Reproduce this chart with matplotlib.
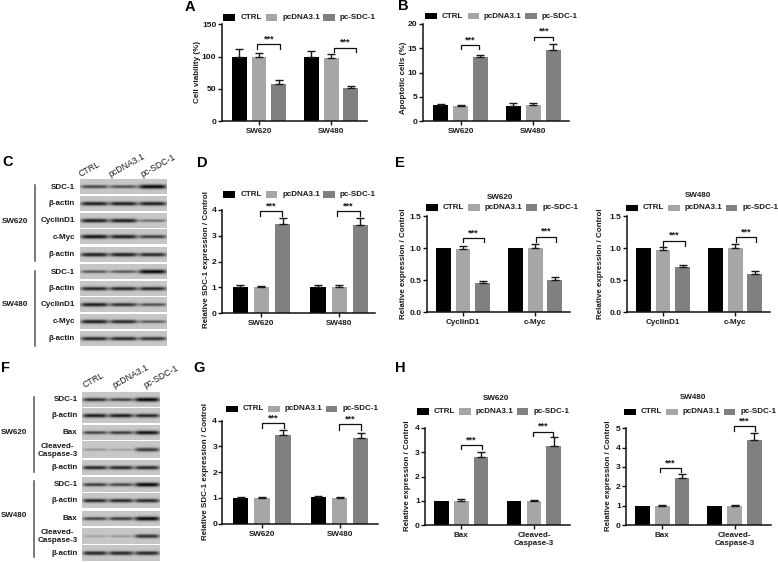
import numpy as np
import matplotlib
matplotlib.use("Agg")
import matplotlib.pyplot as plt
from matplotlib.patches import Rectangle

plt.rcParams['font.family'] = ['Liberation Sans', 'DejaVu Sans']
W, H = 778, 562

# ---------- data ----------
groups_cells = ['SW620', 'SW480']
series = ['CTRL', 'pcDNA3.1', 'pc-SDC-1']
colors = ['#000000', '#a6a6a6', '#808080']

a_vals = [[100, 99.5, 57], [100, 97, 50.5]]
a_tops = [[111, 106, 64], [109, 104, 54.5]]
b_vals = [[3.2, 3.0, 13.1], [3.0, 3.4, 14.7]]
b_tops = [[3.6, 3.2, 13.7], [3.7, 3.8, 15.8]]
d_vals = [[1.0, 1.0, 3.47], [1.0, 1.0, 3.43]]
d_tops = [[1.07, 1.06, 3.7], [1.07, 1.07, 3.7]]
e1_vals = [[1.0, 0.98, 0.45], [1.0, 1.0, 0.51]]
e1_tops = [[1.0, 1.03, 0.49], [1.0, 1.06, 0.55]]
e2_vals = [[1.0, 0.97, 0.71], [1.0, 1.0, 0.6]]
e2_tops = [[1.0, 1.01, 0.74], [1.0, 1.07, 0.65]]
g_vals = [[1.0, 0.98, 3.45], [1.02, 1.0, 3.32]]
g_tops = [[1.05, 1.04, 3.65], [1.06, 1.04, 3.52]]
h1_vals = [[1.0, 1.0, 2.8], [1.0, 1.0, 3.25]]
h1_tops = [[1.0, 1.06, 3.03], [1.0, 1.05, 3.62]]
h2_vals = [[1.0, 0.98, 2.45], [1.0, 1.0, 4.42]]
h2_tops = [[1.0, 1.03, 2.65], [1.0, 1.05, 4.75]]

blot_c_labels = ['SDC-1', 'β-actin', 'CyclinD1', 'c-Myc', 'β-actin'] * 2
blot_c_bands = [[.65, .6, .95], [.85, .85, .85], [.85, .85, .45], [.9, .85, .7], [.85, .85, .8],
                [.55, .55, .95], [.8, .8, .8], [.85, .75, .6], [.85, .8, .55], [.8, .8, .75]]
blot_f_labels = ['SDC-1', 'β-actin', 'Bax', 'Cleaved-\nCaspase-3', 'β-actin'] * 2
blot_f_bands = [[.75, .65, .95], [.85, .85, .8], [.65, .7, .9], [.25, .2, .7], [.8, .8, .8],
                [.7, .65, .95], [.8, .8, .8], [.65, .7, .95], [.2, .25, .75], [.8, .8, .8]]

# ---------- layout (pixels) ----------
FS = 5.8
GROUP_STEP = 3.67
panels = [
    dict(L=221.7, R=367, T=24.3, B=121, c0=239.3, p=19.67, vals=a_vals, tops=a_tops, ymax=150,
         ticks=[0, 50, 100, 150], fmt='{:d}', cats=groups_cells, ylabel='Cell viability (%)',
         lx=198, ly=72, leg=(223.3, 17.3), title=None,
         br=[(.92, 2.07, 119, 112), (4.83, 5.92, 114, 107.5)]),
    dict(L=422.7, R=569, T=24, B=121, c0=440.7, p=19.83, vals=b_vals, tops=b_tops, ymax=20,
         ticks=[0, 5, 10, 15, 20], fmt='{:d}', cats=groups_cells, ylabel='Apoptotic cells (%)',
         lx=404, ly=78, leg=(425, 16), title=None,
         br=[(1.03, 1.95, 15.7, 14.8), (4.72, 5.68, 17.4, 16.6)]),
    dict(L=221.7, R=375, T=210, B=313, c0=240.3, p=21.17, vals=d_vals, tops=d_tops, ymax=4,
         ticks=[0, 1, 2, 3, 4], fmt='{:d}', cats=groups_cells, ylabel='Relative SDC-1 expression / Control',
         lx=206.7, ly=260, leg=(223.3, 194.3), title=None,
         br=[(.93, 1.98, 3.96, 3.75), (4.58, 5.65, 3.96, 3.75)]),
    dict(L=426.7, R=570, T=216, B=312.3, c0=443.3, p=19.67, vals=e1_vals, tops=e1_tops, ymax=1.5,
         ticks=[0, .5, 1, 1.5], fmt='{:.1f}', cats=['CyclinD1', 'c-Myc'], ylabel='Relative expression / Control',
         lx=404, ly=264, leg=(425.7, 207.3), title=('SW620', 500, 197.3),
         br=[(1.02, 2.05, 1.16, 1.09), (4.71, 5.73, 1.18, 1.10)]),
    dict(L=626.7, R=770, T=216, B=312.3, c0=643.3, p=19.67, vals=e2_vals, tops=e2_tops, ymax=1.5,
         ticks=[0, .5, 1, 1.5], fmt='{:.1f}', cats=['CyclinD1', 'c-Myc'], ylabel='Relative expression / Control',
         lx=601, ly=264, leg=(625.7, 207.7), title=('SW480', 698, 195.7),
         br=[(1.02, 2.12, 1.115, 1.04), (4.69, 5.73, 1.17, 1.10)]),
    dict(L=222.3, R=378, T=420.7, B=523.7, c0=240.7, p=21.17, vals=g_vals, tops=g_tops, ymax=4,
         ticks=[0, 1, 2, 3, 4], fmt='{:d}', cats=groups_cells, ylabel='Relative SDC-1 expression / Control',
         lx=206, ly=472, leg=(225.7, 409), title=None,
         br=[(.99, 2.05, 3.92, 3.70), (4.65, 5.70, 3.86, 3.64)]),
    dict(L=425, R=570, T=428, B=525, c0=441.3, p=19.83, vals=h1_vals, tops=h1_tops, ymax=4,
         ticks=[0, 1, 2, 3, 4], fmt='{:d}', cats=['Bax', 'Cleaved-\nCaspase-3'], ylabel='Relative expression / Control',
         lx=407.7, ly=476, leg=(416.7, 411.3), title=('SW620', 495.7, 398.3),
         br=[(.99, 2.05, 3.3, 3.12), (4.6, 5.65, 3.85, 3.66)]),
    dict(L=626, R=771, T=428.3, B=525, c0=642.7, p=19.67, vals=h2_vals, tops=h2_tops, ymax=5,
         ticks=[0, 1, 2, 3, 4, 5], fmt='{:d}', cats=['Bax', 'Cleaved-\nCaspase-3'], ylabel='Relative expression / Control',
         lx=609, ly=476, leg=(623.7, 411.7), title=('SW480', 693, 397.3),
         br=[(.88, 1.95, 2.95, 2.72), (4.64, 5.69, 5.12, 4.86)]),
]

fig = plt.figure(figsize=(W / 100, H / 100), dpi=100, facecolor='white')
ov = fig.add_axes([0, 0, 1, 1], zorder=5)
ov.set_xlim(0, W)
ov.set_ylim(H, 0)
ov.axis('off')
ov.patch.set_alpha(0)

TXT = '#1a1a1a'


def otext(x, y, s, **kw):
    kw.setdefault('fontsize', FS)
    kw.setdefault('fontweight', 'bold')
    kw.setdefault('color', TXT)
    kw.setdefault('va', 'center')
    return ov.text(x, y, s, **kw)


def legend(x0, y):
    for dx_h, w_h, dx_t, name, c in zip((0, 42.7, 100), (12, 11.3, 11.7), (17, 59, 116.7), series, colors):
        ov.add_patch(Rectangle((x0 + dx_h, y - 3.2), w_h, 6.4, fc=c, ec='none'))
        otext(x0 + dx_t, y, name, ha='left')


for P in panels:
    ax = fig.add_axes([P['L'] / W, 1 - P['B'] / H, (P['R'] - P['L']) / W, (P['B'] - P['T']) / H])
    ax.set_xlim((P['L'] - P['c0']) / P['p'], (P['R'] - P['c0']) / P['p'])
    ax.set_ylim(0, P['ymax'])
    bw = 14.8 / P['p'] if P['p'] < 20 else 15.3 / P['p']
    for g, (vals, tops) in enumerate(zip(P['vals'], P['tops'])):
        for i, (v, t, c) in enumerate(zip(vals, tops, colors)):
            x = g * GROUP_STEP + i
            ax.bar(x, v, width=bw, color=c, zorder=2)
            if t > v:
                ax.errorbar(x, v, yerr=[[0], [t - v]], color='#1a1a1a', lw=1, capsize=3, capthick=1, zorder=3)
    for x0, x1, yt, yb in P['br']:
        ax.plot([x0, x0, x1, x1], [yb, yt, yt, yb], color='#111111', lw=0.9, clip_on=False, zorder=4)
        ax.annotate('***', ((x0 + x1) / 2, yt), xytext=(0, 0.5), textcoords='offset points', ha='center', va='bottom',
                    fontsize=6.5, fontweight='bold', color=TXT, annotation_clip=False)
    for s in ('top', 'right'):
        ax.spines[s].set_visible(False)
    for s in ('left', 'bottom'):
        ax.spines[s].set_linewidth(1.1)
        ax.spines[s].set_color('#111111')
    ax.set_yticks(P['ticks'])
    ax.set_yticklabels([P['fmt'].format(t) for t in P['ticks']], fontsize=FS + 0.3, fontweight='bold', color=TXT)
    ax.set_xticks([1, 1 + GROUP_STEP])
    ax.set_xticklabels(P['cats'], fontsize=FS, fontweight='bold', color=TXT, linespacing=1.25)
    ax.tick_params(axis='y', length=2.6, width=1.0, pad=1.2, color='#111111')
    ax.tick_params(axis='x', length=2.6, width=1.0, pad=2.5, color='#111111')
    ax.patch.set_alpha(0)
    ax.set_ylabel(P['ylabel'], fontsize=FS, fontweight='bold', color=TXT)
    ax.yaxis.set_label_coords(P['lx'], P['ly'], transform=ov.transData)
    ax.yaxis.label.set_verticalalignment('center')
    legend(*P['leg'])
    if P['title']:
        otext(P['title'][1], P['title'][2], P['title'][0], ha='center')


def strip(x0, x1, y0, y1, bands):
    h, w = int(y1 - y0) * 3, int(x1 - x0) * 3
    yy, xx = np.mgrid[0:h, 0:w]
    xx = xx / w
    yy = yy / h
    img = np.zeros((h, w))
    for lane, d in enumerate(bands):
        cx = (lane + .5) / 3
        env = np.exp(-((xx - cx) / .158) ** 6)
        sig = .05 + .09 * d
        img += d * env * np.exp(-((yy - .5) / sig) ** 2)
    gray = 0.78 - 0.76 * np.clip(img * 1.05, 0, 1)
    ov.imshow(gray, extent=(x0, x1, y1, y0), cmap='gray', vmin=0, vmax=1, aspect='auto', interpolation='bilinear', zorder=1)


def blot(x0, x1, rows, labels, bands, lab_x):
    for (y0, y1), lab, b in zip(rows, labels, bands):
        strip(x0, x1, y0, y1, b)
        otext(lab_x, (y0 + y1) / 2, lab, ha='right', multialignment='center', linespacing=1.25)


rows_c = [(180, 194.3), (196.7, 211), (213.3, 227.7), (230, 244.3), (247.3, 261.7),
          (265, 279.3), (281.3, 295.7), (297.7, 312), (314, 329), (331, 346)]
rows_f = [(391.7, 406.7), (408.3, 423.3), (425, 440), (442, 458.3), (460.3, 475),
          (476.7, 491.7), (493.7, 508.3), (511, 526), (528.3, 544), (545.7, 561)]
blot(80, 167, rows_c, blot_c_labels, blot_c_bands, 75)
blot(82, 160, rows_f, blot_f_labels, blot_f_bands, 77.7)
ov.set_xlim(0, W)
ov.set_ylim(H, 0)

for x, y0, y1 in [(34.7, 185, 260.7), (34.7, 270.7, 345.7), (33.7, 396.7, 472), (33.7, 481, 557)]:
    ov.plot([x, x], [y0, y1], color='#555555', lw=1.1)
otext(2, 221.7, 'SW620', ha='left')
otext(2, 304.3, 'SW480', ha='left')
otext(1, 432.3, 'SW620', ha='left')
otext(1, 515.7, 'SW480', ha='left')

for names, xs, y in [(series, (81.7, 111.7, 143), 179), (series, (85, 115, 146.7), 390)]:
    for n, x in zip(names, xs):
        ov.text(x, y, n, rotation=29, rotation_mode='anchor', ha='left', va='bottom', fontsize=6.3, color=TXT)

for s, x, y in [('A', 185, 7), ('B', 398, 6.5), ('C', 2, 162), ('D', 197, 163), ('E', 395, 163),
                ('F', 1.5, 368), ('G', 193, 368), ('H', 395, 368)]:
    otext(x, y, s, fontsize=10.5, ha='left', color='black')

fig.savefig('out.png', dpi=100)
